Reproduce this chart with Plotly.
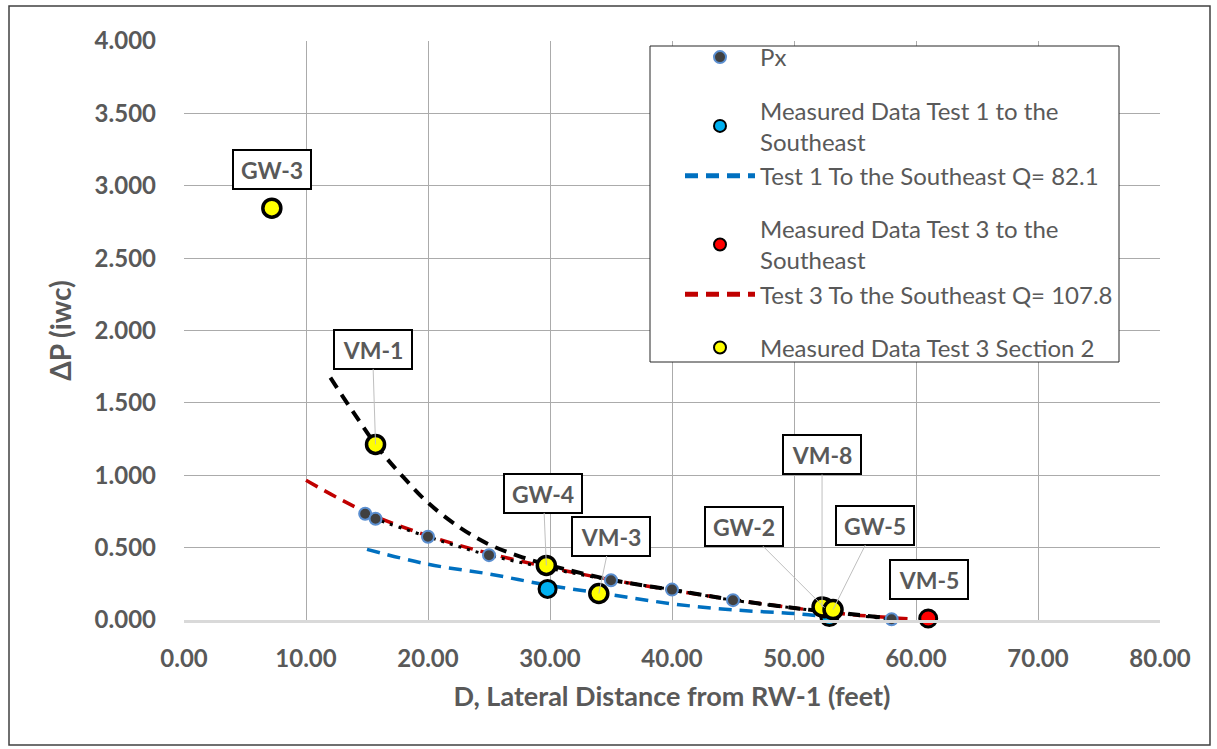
import plotly.graph_objects as go

# ---------------- data ----------------
px_x = [14.85, 15.7, 20.0, 25.0, 35.0, 40.0, 45.0, 58.0]
px_y = [0.734, 0.700, 0.575, 0.448, 0.275, 0.210, 0.137, 0.005]

meas1_x = [29.8, 52.9]
meas1_y = [0.215, 0.020]

test1_x = [15, 20, 25, 30, 35, 40, 45, 50, 53]
test1_y = [0.488, 0.385, 0.318, 0.238, 0.175, 0.112, 0.070, 0.045, 0.020]

meas3_x = [61.0]
meas3_y = [0.010]
meas3_labels = ["VM-5"]

test3_x = [10, 15, 20, 25, 30, 35, 40, 45, 50, 55, 59.5]
test3_y = [0.965, 0.742, 0.582, 0.460, 0.362, 0.278, 0.206, 0.140, 0.083, 0.035, 0.008]

sec2_x = [7.2, 15.7, 29.7, 34.0, 52.5, 52.3, 53.2]
sec2_y = [2.845, 1.213, 0.377, 0.183, 0.085, 0.090, 0.072]
sec2_labels = ["GW-3", "VM-1", "GW-4", "VM-3", "GW-2", "VM-8", "GW-5"]

sec2_curve_x = [12, 14, 16, 18, 20, 22.5, 25, 27.5, 30, 35, 40, 45, 50, 55, 58]
sec2_curve_y = [1.674, 1.420, 1.180, 0.985, 0.810, 0.645, 0.522, 0.440, 0.378,
                0.278, 0.208, 0.140, 0.083, 0.038, 0.010]

x_ticks = [0, 10, 20, 30, 40, 50, 60, 70, 80]
y_ticks = [0, 0.5, 1.0, 1.5, 2.0, 2.5, 3.0, 3.5, 4.0]

names = {
    "px": "Px",
    "m1": "Measured Data Test 1 to the<br>Southeast",
    "t1": "Test 1 To the Southeast Q= 82.1",
    "m3": "Measured Data Test 3 to the<br>Southeast",
    "t3": "Test 3 To the Southeast Q= 107.8",
    "s2": "Measured Data Test 3 Section 2",
}

# ---------------- styling ----------------
FONT = "Lato, 'Open Sans', sans-serif"
GRAY = "#595959"

fig = go.Figure()

# curves (drawn first)
fig.add_trace(go.Scatter(x=test1_x, y=test1_y, mode="lines", name=names["t1"],
                         line=dict(color="#0070C0", width=3.5, dash="13px,8px", shape="spline"),
                         legendgroup="g2", legendrank=3))
fig.add_trace(go.Scatter(x=test3_x, y=test3_y, mode="lines", name=names["t3"],
                         line=dict(color="#C00000", width=3.5, dash="13px,8px", shape="spline"),
                         legendgroup="g3", legendrank=5))
fig.add_trace(go.Scatter(x=px_x, y=px_y, mode="lines", showlegend=False,
                         line=dict(color="black", width=3, dash="3px,6px", shape="spline")))
fig.add_trace(go.Scatter(x=sec2_curve_x, y=sec2_curve_y, mode="lines", showlegend=False,
                         line=dict(color="black", width=4, dash="12px,8px", shape="spline")))

# markers
fig.add_trace(go.Scatter(x=px_x, y=px_y, mode="markers", name=names["px"],
                         marker=dict(color="#404040", size=12,
                                     line=dict(color="#5B8FD0", width=2)),
                         cliponaxis=False, legendgroup="g1", legendrank=1))
fig.add_trace(go.Scatter(x=meas1_x, y=meas1_y, mode="markers", name=names["m1"],
                         marker=dict(color="#00B0F0", size=17,
                                     line=dict(color="black", width=3)),
                         cliponaxis=False, legendgroup="g2", legendrank=2))
fig.add_trace(go.Scatter(x=meas3_x, y=meas3_y, mode="markers", name=names["m3"],
                         marker=dict(color="#FF0000", size=17,
                                     line=dict(color="black", width=3)),
                         cliponaxis=False, legendgroup="g3", legendrank=4))
fig.add_trace(go.Scatter(x=sec2_x, y=sec2_y, mode="markers", name=names["s2"],
                         marker=dict(color="#FFFF00", size=18,
                                     line=dict(color="black", width=3.5)),
                         cliponaxis=False, legendgroup="g4", legendrank=6))

# label boxes (offsets in pixels from the point to the box centre)
label_offsets = {
    "GW-3": (0, -39, False),
    "VM-1": (-3, -95, True),
    "GW-4": (-3, -72, True),
    "VM-3": (12, -57, True),
    "GW-2": (-81, -81, True),
    "VM-8": (0, -152, True),
    "GW-5": (42, -84, True),
    "VM-5": (1, -39, False),
}
all_lx = sec2_x + meas3_x
all_ly = sec2_y + meas3_y
all_lab = sec2_labels + meas3_labels
for lx, ly, lab in zip(all_lx, all_ly, all_lab):
    ax, ay, arrow = label_offsets[lab]
    common = dict(x=lx, y=ly, text=lab,
                  font=dict(family=FONT, size=23, color=GRAY, weight="bold"),
                  bgcolor="white", bordercolor="black", borderwidth=2,
                  borderpad=4, width=68, height=29)
    if arrow:
        fig.add_annotation(**common, showarrow=True, ax=ax, ay=ay,
                           arrowhead=0, arrowwidth=1, arrowcolor="#BFBFBF",
                           standoff=0)
    else:
        fig.add_annotation(**common, showarrow=False, xshift=ax, yshift=-ay)

# pixel -> paper helpers
W, H = 1217, 749
L, R, T, B = 184, 57, 41, 129
pw, ph = W - L - R, H - T - B
def fx(p):
    return (p - L) / pw
def fy(p):
    return (H - B - p) / ph

# outer chart frame
fig.add_shape(type="rect", xref="paper", yref="paper",
              x0=fx(9), x1=fx(1210), y0=fy(745), y1=fy(6),
              line=dict(color="#404040", width=1.5), layer="below")
# legend box
fig.add_shape(type="rect", xref="paper", yref="paper",
              x0=fx(650), x1=fx(1119), y0=fy(362), y1=fy(46),
              line=dict(color="#262626", width=1), fillcolor="white", layer="above")

fig.update_layout(
    width=W, height=H,
    margin=dict(l=L, r=R, t=T, b=B),
    paper_bgcolor="white", plot_bgcolor="white",
    font=dict(family=FONT, color=GRAY),
    legend=dict(x=fx(680), y=fy(35), xanchor="left", yanchor="top",
                borderwidth=0, bgcolor="rgba(0,0,0,0)",
                font=dict(family=FONT, size=24, color=GRAY),
                traceorder="grouped", tracegroupgap=19,
                itemsizing="constant", itemwidth=70),
    showlegend=True,
)
fig.update_xaxes(range=[0, 80], tickvals=x_ticks, tickformat=".2f",
                 showgrid=True, gridcolor="#ABABAB", gridwidth=1,
                 zeroline=False, showline=True, linecolor="#D9D9D9", linewidth=2.5,
                 ticks="", ticklabelstandoff=15,
                 tickfont=dict(family=FONT, size=24, color=GRAY, weight="bold"),
                 title=dict(text="D, Lateral Distance from RW-1 (feet)",
                            font=dict(family=FONT, size=27, color=GRAY, weight="bold"),
                            standoff=17))
fig.update_yaxes(range=[0, 4], tickvals=y_ticks, tickformat=".3f",
                 showgrid=True, gridcolor="#ABABAB", gridwidth=1,
                 zeroline=False, showline=False,
                 ticks="", ticklabelstandoff=27,
                 tickfont=dict(family=FONT, size=24, color=GRAY, weight="bold"),
                 title=dict(text="ΔP (iwc)",
                            font=dict(family=FONT, size=28, color=GRAY, weight="bold"),
                            standoff=14))

fig.write_html("out.html")
